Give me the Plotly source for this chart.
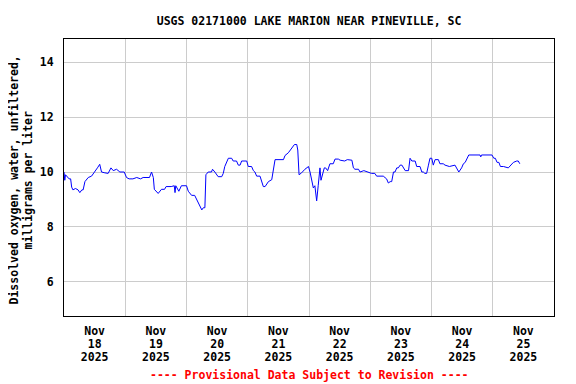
import datetime as dt
import plotly.graph_objects as go

title = "USGS 02171000 LAKE MARION NEAR PINEVILLE, SC"
y_title_lines = ["Dissolved oxygen, water, unfiltered,", "milligrams per liter"]
footer = "---- Provisional Data Subject to Revision ----"

start = dt.datetime(2025, 11, 18, 0, 0)
# hours since 2025-11-18 00:00
hours = [0, 0.3, 0.6, 1.2, 2.0, 2.6, 3.0, 3.5, 4.5, 5.5, 6.2, 7.0, 7.5, 8.2, 9.5, 10.8,
         12.1, 13.1, 14.0, 14.7, 16.0, 17.3, 18.4, 19.3, 20.6, 21.9, 23.6, 24.5, 25.5,
         27.0, 28.5, 30.0, 31.0, 33.5, 34.3, 35.0, 35.4, 36.9, 38.2, 39.4, 40.0, 42.0,
         43.2, 43.5, 43.8, 45.0, 46.0, 48.0, 48.7, 50.0, 51.2, 52.0, 53.3, 54.0, 54.6,
         55.2, 55.6, 56.5, 57.8, 58.2, 59.1, 60.4, 61.8, 62.4, 63.0, 64.4, 65.7, 66.3,
         67.6, 68.3, 69.0, 69.6, 71.6, 72.2, 73.5, 74.2, 74.8, 75.5, 76.8, 77.4, 78.1,
         78.8, 79.4, 80.1, 81.4, 82.0, 82.7, 86.0, 86.6, 87.9, 89.2, 90.3, 91.2, 91.6,
         92.1, 93.1, 94.4, 95.8, 96.4, 97.0, 97.7, 98.3, 99.0, 99.6, 100.3, 100.7, 101.2,
         102.0, 102.5, 103.3, 104.2, 105.5, 106.2, 107.5, 108.2, 110.0, 111.0, 112.8,
         113.4, 114.0, 115.4, 116.0, 117.5, 119.3, 120.5, 121.8, 122.5, 125.1, 125.8,
         126.4, 127.1, 127.8, 128.4, 129.1, 129.7, 130.4, 131.0, 131.7, 132.4, 133.0,
         133.7, 135.0, 135.6, 136.3, 137.6, 138.2, 139.5, 140.2, 140.8, 141.4, 142.1,
         142.8, 143.4, 144.1, 144.7, 145.4, 146.7, 147.3, 148.6, 149.3, 151.0, 153.2,
         154.7, 155.8, 156.5, 157.2, 157.9, 158.6, 163.0, 163.3, 163.6, 166.5, 167.7,
         168.4, 169.0, 169.7, 170.4, 171.0, 172.2, 174.1, 174.7, 176.1, 177.4, 178.0, 178.6]
do_mgl = [10.0, 9.7, 9.9, 9.85, 9.75, 9.75, 9.45, 9.35, 9.4, 9.35, 9.25, 9.35, 9.35, 9.65,
          9.8, 9.85, 10.0, 10.15, 10.28, 10.0, 9.97, 9.95, 10.15, 10.05, 10.1, 10.0, 10.0,
          9.8, 9.75, 9.75, 9.8, 9.75, 9.8, 9.8, 10.0, 9.8, 9.37, 9.22, 9.37, 9.37, 9.47,
          9.47, 9.5, 9.25, 9.5, 9.3, 9.5, 9.5, 9.3, 9.15, 9.15, 8.98, 8.75, 8.62, 8.7, 8.7,
          9.9, 10.0, 10.0, 10.1, 10.0, 9.83, 9.83, 9.95, 10.2, 10.5, 10.5, 10.4, 10.4,
          10.25, 10.25, 10.4, 10.4, 10.2, 10.2, 10.05, 10.0, 9.85, 9.85, 9.7, 9.47, 9.47,
          9.55, 9.65, 9.72, 10.0, 10.45, 10.45, 10.6, 10.7, 10.85, 11.0, 11.0, 10.8, 9.9,
          9.97, 10.1, 10.2, 10.0, 9.7, 9.42, 9.5, 8.95, 9.5, 10.15, 9.7, 9.85, 10.15,
          10.15, 10.05, 10.3, 10.3, 10.47, 10.47, 10.43, 10.4, 10.45, 10.43, 10.15, 10.1,
          10.1, 10.0, 10.05, 10.0, 9.95, 9.95, 9.85, 9.85, 9.8, 9.75, 9.6, 9.65, 9.65,
          10.0, 10.0, 10.15, 10.15, 10.25, 10.25, 10.15, 10.05, 10.05, 10.5, 10.4, 10.4,
          10.2, 10.2, 10.0, 10.0, 9.95, 9.95, 10.25, 10.5, 10.5, 10.25, 10.45, 10.45,
          10.3, 10.3, 10.25, 10.2, 10.25, 10.0, 10.15, 10.3, 10.35, 10.5, 10.62, 10.62,
          10.55, 10.62, 10.62, 10.62, 10.5, 10.5, 10.35, 10.35, 10.2, 10.2, 10.15, 10.2,
          10.35, 10.4, 10.4, 10.3]

days = [18, 19, 20, 21, 22, 23, 24, 25]
month_label = "Nov"
year_label = "2025"
y_ticks = [6, 8, 10, 12, 14]
y_range = [4.76, 14.84]

times = [start + dt.timedelta(hours=h) for h in hours]
label_vals = [dt.datetime(2025, 11, d, 12, 0) for d in days]
grid_vals = [dt.datetime(2025, 11, d, 0, 0) for d in days[1:]]
x_range = [dt.datetime(2025, 11, 18), dt.datetime(2025, 11, 26)]

font = dict(family="DejaVu Sans Mono", size=11.5, color="black", weight="bold")

fig = go.Figure()
fig.add_trace(go.Scatter(x=times, y=do_mgl, mode="lines",
                         line=dict(color="#0000ff", width=1), hoverinfo="skip"))
# invisible helpers so the overlaid label axes are drawn
for ax in ["x2", "x3"]:
    fig.add_trace(go.Scatter(x=[times[0]], y=[do_mgl[0]], xaxis=ax, mode="markers",
                             marker=dict(opacity=0), hoverinfo="skip"))

common_x = dict(range=x_range, tickmode="array", tickvals=label_vals, showgrid=False,
                ticks="", zeroline=False, tickfont=font)

fig.update_layout(
    width=568, height=376,
    margin=dict(l=56, r=22, t=31, b=68),
    paper_bgcolor="white", plot_bgcolor="white",
    showlegend=False,
    font=font,
    title=dict(text=title, x=0.53, xanchor="center", y=0.966, yanchor="middle",
               font=font),
    xaxis=dict(
        **common_x,
        ticktext=[month_label] * len(days), ticklabelstandoff=4,
        showline=True, linecolor="black", linewidth=1, mirror=True,
        minor=dict(tickmode="array", tickvals=grid_vals, showgrid=True,
                   gridcolor="#cccccc", gridwidth=1, ticks=""),
    ),
    xaxis2=dict(**common_x, overlaying="x", side="bottom", anchor="y",
                ticktext=[str(d) for d in days], ticklabelstandoff=19),
    xaxis3=dict(**common_x, overlaying="x", side="bottom", anchor="y",
                ticktext=[year_label] * len(days), ticklabelstandoff=32),
    yaxis=dict(
        range=y_range, tickmode="array", tickvals=y_ticks,
        showgrid=True, gridcolor="#cccccc", gridwidth=1,
        showline=True, linecolor="black", linewidth=1, mirror=True,
        zeroline=False, ticks="", ticklabelstandoff=7, tickfont=font,
    ),
    annotations=[
        dict(text=y_title_lines[0], xref="paper", yref="paper", x=-0.1194, y=0.491,
             xanchor="left", yanchor="middle", textangle=-90, showarrow=False,
             borderpad=0, font=font),
        dict(text=y_title_lines[1], xref="paper", yref="paper", x=-0.0908, y=0.491,
             xanchor="left", yanchor="middle", textangle=-90, showarrow=False,
             borderpad=0, font=font),
        dict(text=footer, xref="paper", yref="paper", x=0.5, y=-0.213,
             xanchor="center", yanchor="middle", showarrow=False,
             font=dict(family="DejaVu Sans Mono", size=11.5, color="red", weight="bold")),
    ],
)

fig.write_html("out.html")
